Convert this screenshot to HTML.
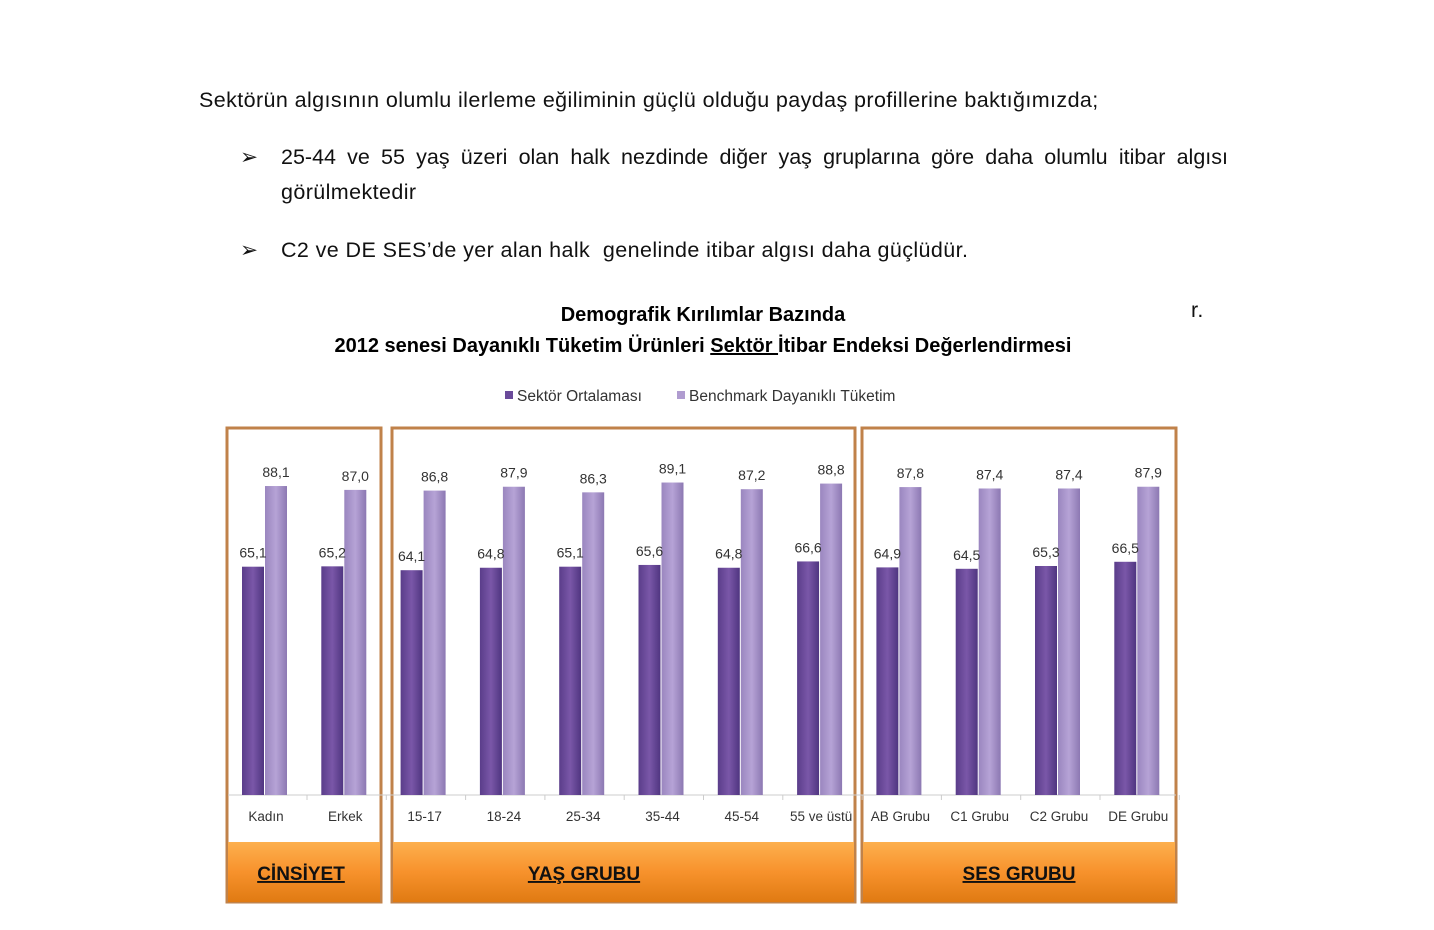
<!DOCTYPE html>
<html><head><meta charset="utf-8"><style>
body{margin:0;background:#fff;width:1434px;height:930px;overflow:hidden;font-family:"Liberation Sans",sans-serif}
.t{position:absolute;font-size:21.5px;letter-spacing:0.4px;color:#111;white-space:nowrap}
</style></head><body>
<div class="t" style="left:199px;top:88px">Sektörün algısının olumlu ilerleme eğiliminin güçlü olduğu paydaş profillerine baktığımızda;</div>
<div class="t" style="left:240px;top:145px">➢</div>
<div class="t" style="left:281px;top:145px;width:947px;text-align:justify;text-align-last:justify;letter-spacing:0">25-44 ve 55 yaş üzeri olan halk nezdinde diğer yaş gruplarına göre daha olumlu itibar algısı</div>
<div class="t" style="left:281px;top:180px">görülmektedir</div>
<div class="t" style="left:240px;top:238px">➢</div>
<div class="t" style="left:281px;top:238px">C2 ve DE SES’de yer alan halk &nbsp;genelinde itibar algısı daha güçlüdür.</div>
<div class="t" style="left:1191px;top:298px">r.</div>
<svg width="1434" height="930" style="position:absolute;left:0;top:0" font-family="Liberation Sans, sans-serif">
<defs>
<linearGradient id="p" x1="0" x2="1"><stop offset="0" stop-color="#5a3d8a"/><stop offset=".5" stop-color="#7a57a8"/><stop offset="1" stop-color="#4f3580"/></linearGradient>
<linearGradient id="l" x1="0" x2="1"><stop offset="0" stop-color="#9a86bf"/><stop offset=".5" stop-color="#b6a3d6"/><stop offset="1" stop-color="#8c78b2"/></linearGradient>
<linearGradient id="o" x1="0" y1="0" x2="0" y2="1"><stop offset="0" stop-color="#fdb04e"/><stop offset=".5" stop-color="#f7922c"/><stop offset="1" stop-color="#e07a12"/></linearGradient>
</defs>
<text x="703" y="321" font-size="20" font-weight="bold" text-anchor="middle">Demografik Kırılımlar Bazında</text>
<text x="703" y="352" font-size="20" font-weight="bold" text-anchor="middle">2012 senesi Dayanıklı Tüketim Ürünleri <tspan text-decoration="underline">Sektör </tspan>İtibar Endeksi Değerlendirmesi</text>
<rect x="505" y="391" width="8" height="8" fill="#6a4a9a"/><text x="517" y="401" font-size="15.5" fill="#333">Sektör Ortalaması</text>
<rect x="677" y="391" width="8" height="8" fill="#b09cd0"/><text x="689" y="401" font-size="15.5" fill="#333">Benchmark Dayanıklı Tüketim</text>
<g fill="none" stroke="#c0824a" stroke-width="3">
<rect x="227" y="428" width="154" height="474"/><rect x="392" y="428" width="463" height="474"/><rect x="862" y="428" width="314" height="474"/></g>
<g fill="url(#o)"><rect x="228" y="842" width="152" height="60"/><rect x="393" y="842" width="461" height="60"/><rect x="863" y="842" width="312" height="60"/></g>
<g font-size="19" font-weight="bold" text-anchor="middle" text-decoration="underline" fill="#111">
<text x="301" y="880">CİNSİYET</text><text x="584" y="880">YAŞ GRUBU</text><text x="1019" y="880">SES GRUBU</text></g>
<line x1="228" y1="795" x2="1176" y2="795" stroke="#ccc"/>
<g id="bars" font-size="14" fill="#333" text-anchor="middle"></g>
</svg>
<script>
var d=[["Kadın",65.1,88.1],["Erkek",65.2,87.0],["15-17",64.1,86.8],["18-24",64.8,87.9],["25-34",65.1,86.3],["35-44",65.6,89.1],["45-54",64.8,87.2],["55 ve üstü",66.6,88.8],["AB Grubu",64.9,87.8],["C1 Grubu",64.5,87.4],["C2 Grubu",65.3,87.4],["DE Grubu",66.5,87.9]];
var s="";d.forEach(function(r,i){var x=228+79.3*i,k=3.507,h1=r[1]*k,h2=r[2]*k;
s+='<rect x="'+(x+14)+'" y="'+(795-h1)+'" width="22" height="'+h1+'" fill="url(#p)"/>';
s+='<rect x="'+(x+37)+'" y="'+(795-h2)+'" width="22" height="'+h2+'" fill="url(#l)"/>';
s+='<text x="'+(x+25)+'" y="'+(795-h1-9)+'">'+r[1].toFixed(1).replace(".",",")+'</text>';
s+='<text x="'+(x+48)+'" y="'+(795-h2-9)+'">'+r[2].toFixed(1).replace(".",",")+'</text>';
s+='<text x="'+(x+38)+'" y="821" font-size="13.5">'+r[0]+'</text>';
s+='<line x1="'+(x+79)+'" y1="795" x2="'+(x+79)+'" y2="800" stroke="#ccc"/>';});
document.getElementById("bars").innerHTML=s;
</script>
</body></html>
